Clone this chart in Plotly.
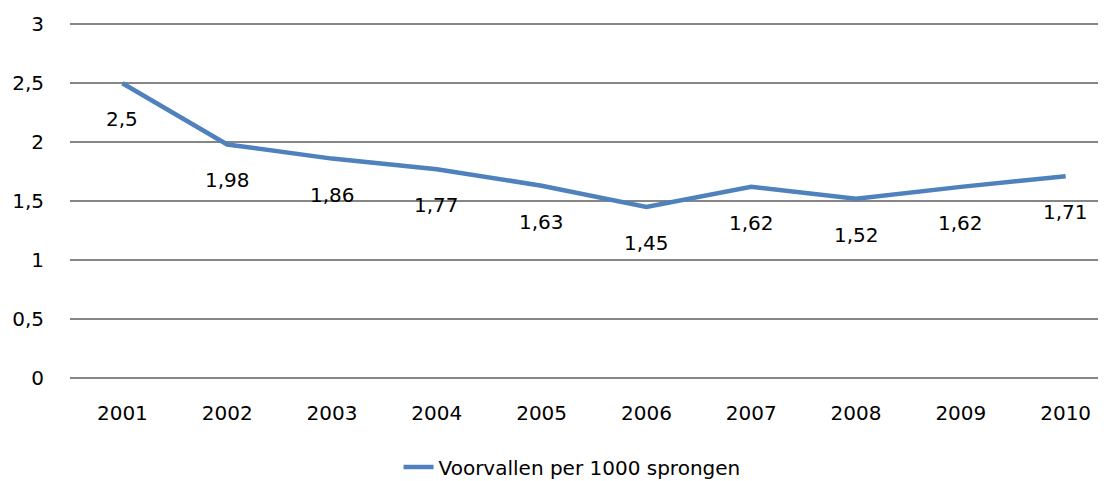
import plotly.graph_objects as go

years = ["2001", "2002", "2003", "2004", "2005", "2006", "2007", "2008", "2009", "2010"]
values = [2.5, 1.98, 1.86, 1.77, 1.63, 1.45, 1.62, 1.52, 1.62, 1.71]
series_name = "Voorvallen per 1000 sprongen"
y_ticks = [0, 0.5, 1, 1.5, 2, 2.5, 3]

FONT = "DejaVu Sans"
fig = go.Figure()
fig.add_trace(go.Scatter(
    x=years, y=values, mode="lines", name=series_name,
    line=dict(color="#4F81BD", width=4.5),
    hoverinfo="skip",
))

for i, v in enumerate(values):
    fig.add_annotation(
        x=i, y=v, xref="x", yref="y", text=f"{v:g}".replace(".", ","), showarrow=False,
        yshift=-36, font=dict(family=FONT, size=20, color="#000000"),
    )

fig.update_layout(
    width=1098, height=473,
    margin=dict(l=62, r=0, t=14, b=101, autoexpand=False),
    paper_bgcolor="white", plot_bgcolor="white",
    separators=", ",
    font=dict(family=FONT, size=20, color="#000000"),
    showlegend=True,
    legend=dict(orientation="h", x=0.4846, xanchor="center", y=-0.243, yanchor="middle",
                font=dict(family=FONT, size=20, color="#000000")),
    xaxis=dict(type="category", range=[-0.5, 9.385], showgrid=False, showline=False,
               zeroline=False, ticks="", ticklabelstandoff=19, automargin=False),
    yaxis=dict(range=[-0.02, 3.02], tickvals=y_ticks, showgrid=True, gridcolor="#868686",
               gridwidth=1.5, zeroline=False, showline=False, ticks="",
               ticklabelstandoff=25, automargin=False),
)

fig.write_html("out.html")
